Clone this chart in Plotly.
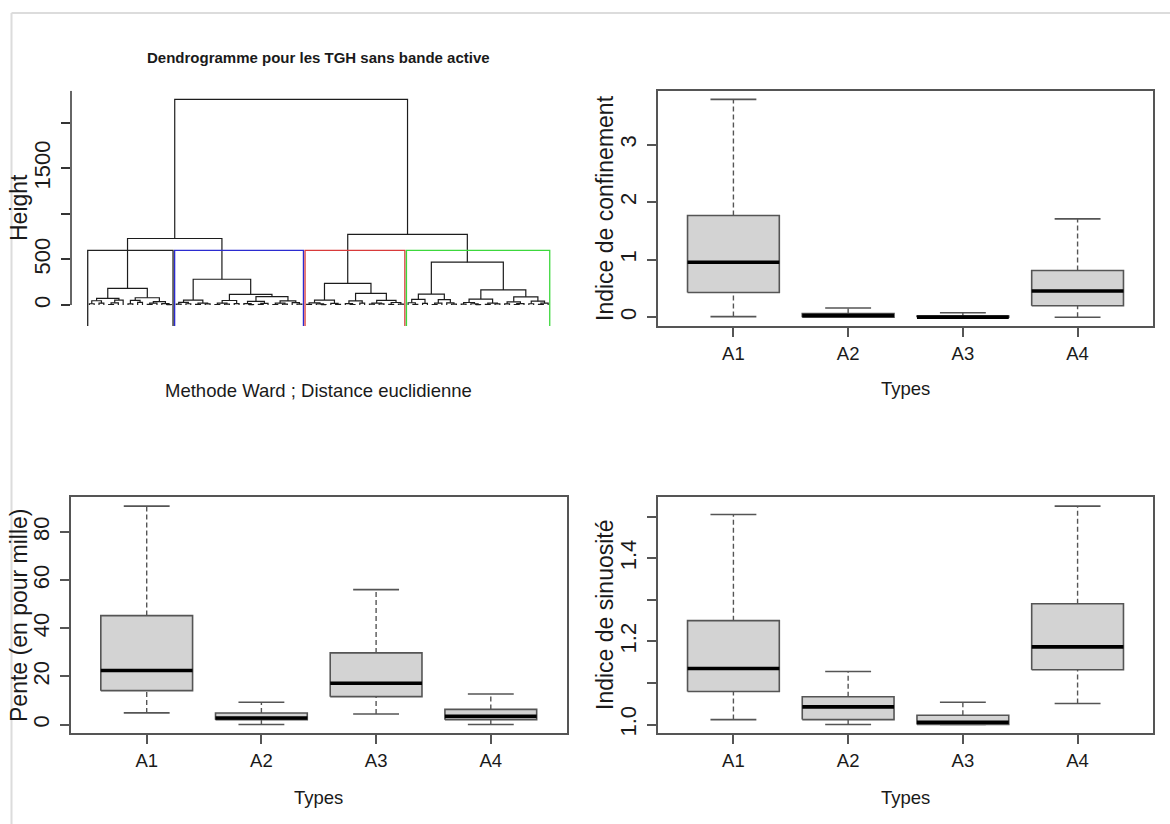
import plotly.graph_objects as go

W, H = 1170, 824

# ---------------- data ----------------
types = ["A1", "A2", "A3", "A4"]

conf_low = [0.012, 0.0, 0.0, 0.0]
conf_q1 = [0.43, 0.0, 0.0, 0.20]
conf_med = [0.957, 0.03, 0.003, 0.457]
conf_q3 = [1.77, 0.064, 0.023, 0.812]
conf_high = [3.786, 0.162, 0.08, 1.71]

pente_low = [4.85, 0.0, 4.4, 0.0]
pente_q1 = [14.1, 2.0, 11.6, 2.0]
pente_med = [22.45, 2.7, 17.2, 3.4]
pente_q3 = [45.3, 4.8, 29.8, 6.3]
pente_high = [90.8, 9.3, 56.1, 12.7]

sin_low = [1.012, 1.0, 1.0, 1.0506]
sin_q1 = [1.0795, 1.012, 1.0, 1.132]
sin_med = [1.135, 1.0426, 1.0055, 1.187]
sin_q3 = [1.250, 1.067, 1.0224, 1.2905]
sin_high = [1.5055, 1.1276, 1.0537, 1.5255]

# dendrogram (Ward), nodes = (height, left, right), o = leaf
o = 0
A1 = (47, (14, o, o), (20, o, o))
A2 = (55, (24, (6, o, o), o), o)
B1 = (52, (12, o, o), (30, o, o))
B2 = (38, (20, (7, o, o), o), (16, o, (5, o, o)))
C1 = (183, (73, A1, A2), (80, B1, B2))

D = (55, (30, (10, o, o), (14, o, o)), (22, (8, o, o), (12, o, o)))
E1 = (50, (21, (6, o, o), (9, o, o)), (16, o, o))
E2a = (40, (15, o, (5, o, o)), (18, (7, o, o), o))
E2b = (45, (20, (6, o, o), (10, o, o)), (26, o, (9, o, o)))
C2 = (283, D, (118, E1, (92, E2a, E2b)))

F = (55, (24, (8, o, o), (12, o, (4, o, o))), (18, o, (7, o, o)))
G1 = (45, (16, o, (6, o, o)), (20, o, o))
G2 = (52, (22, (9, o, o), (13, o, o)), (28, (7, o, o), (10, o, o)))
C3 = (238, F, (128, G1, G2))

H1 = (62, (25, o, (8, o, o)), (18, o, o))
H2 = (60, (20, (6, o, o), o), (24, o, (9, o, o)))
I1 = (65, (28, (10, o, o), (14, o, (5, o, o))), (22, (7, o, o), (12, o, o)))
I2 = (90, (35, (12, o, o), (16, (6, o, o), o)), (42, (14, o, o), (20, (8, o, o), o)))
C4 = (470, (120, H1, H2), (166, I1, I2))

root_height = 2256
left_height = 730
right_height = 775
clusters = [C1, C2, C3, C4]
cluster_colors = ["#222222", "#2b2bd0", "#d83a3a", "#3cd83c"]
root = (root_height, (left_height, C1, C2), (right_height, C3, C4))

# ---------------- helpers ----------------
def n_leaves(node):
    if node == 0:
        return 1
    return n_leaves(node[1]) + n_leaves(node[2])


def heights(node, out):
    if node != 0:
        out.append(node[0])
        heights(node[1], out)
        heights(node[2], out)
    return out


def layout_tree(node, counter, segs):
    if node == 0:
        counter[0] += 1
        return counter[0], 0.0
    h, left, right = node
    xl, yl = layout_tree(left, counter, segs)
    xr, yr = layout_tree(right, counter, segs)
    segs.append([(xl, yl), (xl, h), (xr, h), (xr, yr)])
    return (xl + xr) / 2.0, h


def r_range(lo, hi):
    d = hi - lo
    return [lo - 0.04 * d, hi + 0.04 * d]


# ---------------- geometry ----------------
xL = [71 / W, 566.5 / W]
xR = [657.7 / W, 1153.3 / W]
yT = [1 - 326 / H, 1 - 90.7 / H]
yB = [1 - 733.3 / H, 1 - 497.4 / H]

FRAME = "#555555"
TXT = "#1a1a1a"
REG = "Liberation Sans, Arial, sans-serif"

fig = go.Figure()

# ---------------- dendrogram ----------------
n = n_leaves(root)
segs = []
layout_tree(root, [0], segs)
xs, ys = [], []
for s in segs:
    for p in s:
        xs.append(p[0])
        ys.append(p[1])
    xs.append(None)
    ys.append(None)
fig.add_trace(go.Scatter(x=xs, y=ys, mode="lines", line=dict(color="#1c1c1c", width=1.2),
                         xaxis="x", yaxis="y", hoverinfo="skip", showlegend=False))

dx_range = [1 - 0.04 * (n - 1), n + 0.04 * (n - 1)]
dy_range = [-230, 2352]
hs = sorted(heights(root, []), reverse=True)
cut = (hs[2] + hs[3]) / 2.0
m = 0
for cl, col in zip(clusters, cluster_colors):
    k = n_leaves(cl)
    x0 = m + 0.66
    x1 = m + k + 0.33
    m += k
    fig.add_trace(go.Scatter(x=[x0, x0, x1, x1], y=[dy_range[0], cut, cut, dy_range[0]],
                             mode="lines", line=dict(color=col, width=1.3),
                             xaxis="x", yaxis="y", hoverinfo="skip", showlegend=False))

# ---------------- boxplots ----------------
def add_boxes(xa, ya, low, q1, med, q3, high):
    for i in range(len(types)):
        c = i + 1
        fig.add_trace(go.Scatter(x=[c, c, None, c, c], y=[q3[i], high[i], None, low[i], q1[i]],
                                 mode="lines", line=dict(color=FRAME, width=1.4, dash="5px,3px"),
                                 xaxis=xa, yaxis=ya, hoverinfo="skip", showlegend=False))
        fig.add_trace(go.Scatter(x=[c - 0.2, c + 0.2, None, c - 0.2, c + 0.2],
                                 y=[high[i], high[i], None, low[i], low[i]],
                                 mode="lines", line=dict(color=FRAME, width=1.6),
                                 xaxis=xa, yaxis=ya, hoverinfo="skip", showlegend=False))
        fig.add_trace(go.Scatter(x=[c - 0.4, c + 0.4, c + 0.4, c - 0.4, c - 0.4],
                                 y=[q1[i], q1[i], q3[i], q3[i], q1[i]],
                                 mode="lines", fill="toself", fillcolor="#d3d3d3",
                                 line=dict(color=FRAME, width=1.6),
                                 xaxis=xa, yaxis=ya, hoverinfo="skip", showlegend=False))
        fig.add_trace(go.Scatter(x=[c - 0.4, c + 0.4], y=[med[i], med[i]], mode="lines",
                                 line=dict(color="#000000", width=3.6),
                                 xaxis=xa, yaxis=ya, hoverinfo="skip", showlegend=False))


add_boxes("x2", "y2", conf_low, conf_q1, conf_med, conf_q3, conf_high)
add_boxes("x3", "y3", pente_low, pente_q1, pente_med, pente_q3, pente_high)
add_boxes("x4", "y4", sin_low, sin_q1, sin_med, sin_q3, sin_high)

# ---------------- axes ----------------
def xbox(domain, anchor):
    return dict(domain=domain, anchor=anchor, range=[0.34, 4.66], tickmode="array",
                tickvals=[1, 2, 3, 4], ticktext=types, showline=True, mirror=True,
                linecolor=FRAME, linewidth=1.6, ticks="outside", ticklen=9, tickwidth=1.5,
                tickcolor=FRAME, showgrid=False, zeroline=False, ticklabelstandoff=1,
                automargin=False, tickfont=dict(family=REG, size=18.5, color=TXT))


def ybox(domain, anchor, rng, vals, text):
    return dict(domain=domain, anchor=anchor, range=rng, tickmode="array", tickvals=vals,
                ticktext=text, tickangle=-90, showline=True, mirror=True, linecolor=FRAME,
                linewidth=1.6, ticks="outside", ticklen=9, tickwidth=1.5, tickcolor=FRAME,
                showgrid=False, zeroline=False, ticklabelstandoff=2, automargin=False,
                tickfont=dict(family=REG, size=22, color=TXT))


fig.update_layout(
    template="none",
    width=W, height=H, margin=dict(l=0, r=0, t=0, b=0, autoexpand=False),
    paper_bgcolor="white", plot_bgcolor="white", showlegend=False,
    xaxis=dict(domain=xL, anchor="y", range=dx_range, visible=False, automargin=False),
    yaxis=dict(domain=yT, anchor="x", range=dy_range, tickmode="array",
               tickvals=[0, 500, 1000, 1500, 2000], ticktext=["0", "500", "", "1500", ""],
               tickangle=-90, showline=False, ticks="outside", ticklen=9, tickwidth=1.5,
               tickcolor="#333333", showgrid=False, zeroline=False, ticklabelstandoff=2,
               automargin=False, tickfont=dict(family=REG, size=22, color=TXT)),
    xaxis2=xbox(xR, "y2"),
    yaxis2=ybox(yT, "x2", r_range(0, max(conf_high)), [0, 1, 2, 3], ["0", "1", "2", "3"]),
    xaxis3=xbox(xL, "y3"),
    yaxis3=ybox(yB, "x3", r_range(0, max(pente_high)), [0, 20, 40, 60, 80],
                ["0", "20", "40", "60", "80"]),
    xaxis4=xbox(xR, "y4"),
    yaxis4=ybox(yB, "x4", r_range(min(sin_low), max(sin_high)), [1.0, 1.1, 1.2, 1.3, 1.4, 1.5],
                ["1.0", "", "1.2", "", "1.4", ""]),
)

# dendrogram y-axis line (from 0 to top)
fig.add_shape(type="line", xref="x domain", yref="y", x0=0, x1=0, y0=0, y1=dy_range[1],
              line=dict(color="#333333", width=1.5))

# light frame of the image
fig.add_shape(type="line", xref="paper", yref="paper", x0=11.5 / W, x1=11.5 / W, y0=0,
              y1=1 - 13 / H, line=dict(color="#dcdcdc", width=2))
fig.add_shape(type="line", xref="paper", yref="paper", x0=11.5 / W, x1=1, y0=1 - 13 / H,
              y1=1 - 13 / H, line=dict(color="#dcdcdc", width=2))

# ---------------- texts ----------------
def ann(text, x, y, size, family, angle=0, bold=False):
    fig.add_annotation(text=("<b>%s</b>" % text) if bold else text, x=x / W, y=1 - y / H,
                       xref="paper", yref="paper", showarrow=False, textangle=angle,
                       xanchor="center", yanchor="middle",
                       font=dict(family=family, size=size, color=TXT))


ann("Dendrogramme pour les TGH sans bande active", 318, 58, 15, REG, bold=True)
ann("Methode Ward ; Distance euclidienne", 318.5, 390, 18.5, REG)
ann("Height", 19, 208, 23, REG, angle=-90)
ann("Indice de confinement", 605, 208, 23, REG, angle=-90)
ann("Types", 905.5, 389, 18.5, REG)
ann("Pente (en pour mille)", 19, 615, 23, REG, angle=-90)
ann("Types", 318.8, 797, 18.5, REG)
ann("Indice de sinuosité", 605, 615, 23, REG, angle=-90)
ann("Types", 905.5, 797, 18.5, REG)

fig.write_html(
    "out.html",
    config={"displayModeBar": False},
    post_script="document.body.style.margin='0';document.body.style.overflow='hidden';",
)
